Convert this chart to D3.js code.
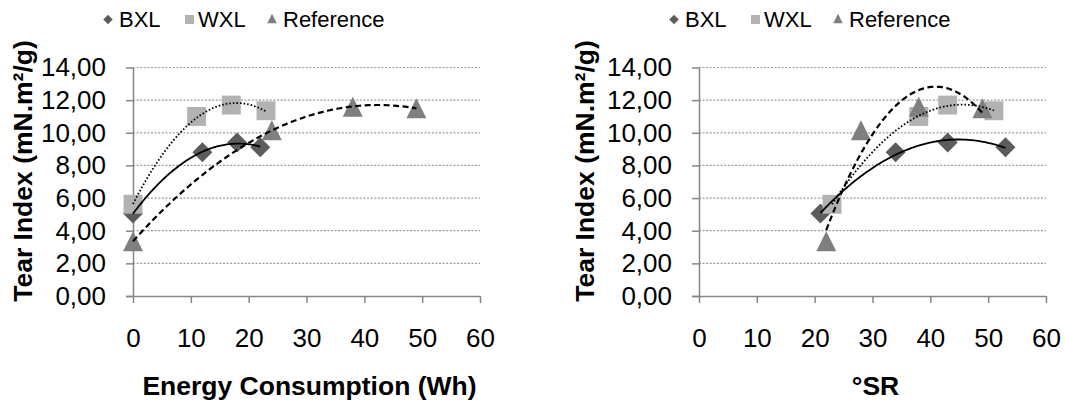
<!DOCTYPE html>
<html>
<head>
<meta charset="utf-8">
<script src="https://cdn.jsdelivr.net/npm/d3@7"></script>
<style>
  body { margin: 0; background: #fff; }
  svg { font-family: "Liberation Sans", Arial, sans-serif; }
  .grid line { stroke: #9a9a9a; stroke-width: 1.2; stroke-dasharray: 2,1.6; }
  .axis path, .axis line { stroke: #868686; stroke-width: 1.5; }
  .tick text { fill: #000; }
</style>
</head>
<body>
<svg id="chart" width="1065" height="407"></svg>
<script>
// Series names and the values
const seriesNames = ['BXL', 'WXL', 'Reference'];
const tearBXL = [5.05, 8.8, 9.4, 9.12];
const tearWXL = [5.62, 11.0, 11.7, 11.35];
const tearRef = [3.35, 10.15, 11.6, 11.5];

const energyBXL = [0, 12, 18, 22];
const energyWXL = [0, 11, 17, 23];
const energyRef = [0, 24, 38, 49];

const srBXL = [21, 34, 43, 53];
const srWXL = [23, 38, 43, 51];
const srRef = [22, 28, 38, 49];

const xTicks = [0, 10, 20, 30, 40, 50, 60];
const yTicks = [0, 2, 4, 6, 8, 10, 12, 14];

const colors = { BXL: '#5c5c5c', WXL: '#b2b2b2', Reference: '#7f7f7f' };
const trendDash = { BXL: null, WXL: '1.6,2', Reference: '6,3.5' };

const svg = d3.select('#chart');
const commaFmt = v => d3.format('.2f')(v).replace('.', ',');

// least squares fit of a second order polynomial
function quadFit(xs, ys) {
  let s = [0, 0, 0, 0, 0], t = [0, 0, 0];
  xs.forEach((x, i) => {
    for (let k = 0; k < 5; k++) s[k] += Math.pow(x, k);
    for (let k = 0; k < 3; k++) t[k] += ys[i] * Math.pow(x, k);
  });
  const m = [[s[0], s[1], s[2], t[0]], [s[1], s[2], s[3], t[1]], [s[2], s[3], s[4], t[2]]];
  for (let c = 0; c < 3; c++) {
    for (let r = c + 1; r < 3; r++) {
      const f = m[r][c] / m[c][c];
      for (let k = c; k < 4; k++) m[r][k] -= f * m[c][k];
    }
  }
  const a = [0, 0, 0];
  for (let r = 2; r >= 0; r--) {
    let v = m[r][3];
    for (let k = r + 1; k < 3; k++) v -= m[r][k] * a[k];
    a[r] = v / m[r][r];
  }
  return x => a[0] + a[1] * x + a[2] * x * x;
}

function drawMarker(g, name, size) {
  const h = size / 2;
  if (name === 'BXL') {
    g.append('path').attr('d', `M0,${-h}L${h},0L0,${h}L${-h},0Z`);
  } else if (name === 'WXL') {
    const s = h * 0.9;
    g.append('rect').attr('x', -s).attr('y', -s).attr('width', 2 * s).attr('height', 2 * s);
  } else {
    g.append('path').attr('d', `M0,${-h}L${h},${h}L${-h},${h}Z`);
  }
  g.attr('fill', colors[name]);
}

function drawPanel(offsetX, xTitle, xSets, titleX) {
  const x = d3.scaleLinear().domain([0, 60]).range([offsetX + 133, offsetX + 480]);
  const y = d3.scaleLinear().domain([0, 14]).range([296, 67.5]);
  const panel = svg.append('g');

  // horizontal gridlines
  panel.append('g').attr('class', 'grid')
    .selectAll('line').data(yTicks.slice(1)).enter().append('line')
    .attr('x1', x(0)).attr('x2', x(60))
    .attr('y1', d => y(d)).attr('y2', d => y(d));

  const yAxis = panel.append('g').attr('class', 'axis')
    .attr('transform', `translate(${x(0)},0)`)
    .call(d3.axisLeft(y).tickValues(yTicks).tickFormat(commaFmt).tickSize(7).tickSizeOuter(0).tickPadding(20));
  yAxis.selectAll('text').style('font-size', '26px');

  const xAxis = panel.append('g').attr('class', 'axis')
    .attr('transform', `translate(0,${y(0)})`)
    .call(d3.axisBottom(x).tickValues(xTicks).tickSize(7).tickSizeOuter(0).tickPadding(26));
  xAxis.selectAll('text').style('font-size', '26px');
  xAxis.select('.domain').attr('d', `M${x(0) - 7},0.5H${x(60)}`);

  // markers
  seriesNames.forEach((name, i) => {
    const xs = xSets[i], ys = [tearBXL, tearWXL, tearRef][i];
    const sz = name === 'WXL' ? 21 : 20;
    xs.forEach((v, j) => {
      const m = panel.append('g').attr('transform', `translate(${x(v)},${y(ys[j])})`);
      drawMarker(m, name, sz);
    });
  });

  // polynomial trendlines
  seriesNames.forEach((name, i) => {
    const xs = xSets[i], ys = [tearBXL, tearWXL, tearRef][i];
    const f = quadFit(xs, ys);
    const pts = d3.range(0, 101).map(k => {
      const v = d3.min(xs) + (d3.max(xs) - d3.min(xs)) * k / 100;
      return [x(v), y(f(v))];
    });
    panel.append('path')
      .attr('d', d3.line()(pts))
      .attr('fill', 'none')
      .attr('stroke', '#000')
      .attr('stroke-width', name === 'Reference' ? 2.2 : 1.8)
      .attr('stroke-dasharray', trendDash[name]);
  });

  // legend
  const legendX = [offsetX + 108, offsetX + 189.5, offsetX + 272];
  const legendText = [offsetX + 119, offsetX + 198, offsetX + 283];
  seriesNames.forEach((name, i) => {
    const m = panel.append('g').attr('transform', `translate(${legendX[i]},${name === 'Reference' ? 18.5 : 19.5})`);
    drawMarker(m, name, name === 'WXL' ? 10 : 9.5);
    panel.append('text').attr('x', legendText[i]).attr('y', 26.5)
      .style('font-size', '22px').text(name);
  });

  // axis titles
  panel.append('text')
    .attr('transform', `translate(${titleX},171) rotate(-90)`)
    .attr('text-anchor', 'middle')
    .style('font-size', '26.5px').style('font-weight', 'bold')
    .text('Tear Index (mN.m²/g)');

  panel.append('text')
    .attr('x', (x(0) + x(60)) / 2 + 3).attr('y', 395)
    .attr('text-anchor', 'middle')
    .style('font-size', '26.5px').style('font-weight', 'bold')
    .text(xTitle);
}

drawPanel(0, 'Energy Consumption (Wh)', [energyBXL, energyWXL, energyRef], 32);
drawPanel(566, '°SR', [srBXL, srWXL, srRef], 594);
</script>
</body>
</html>
